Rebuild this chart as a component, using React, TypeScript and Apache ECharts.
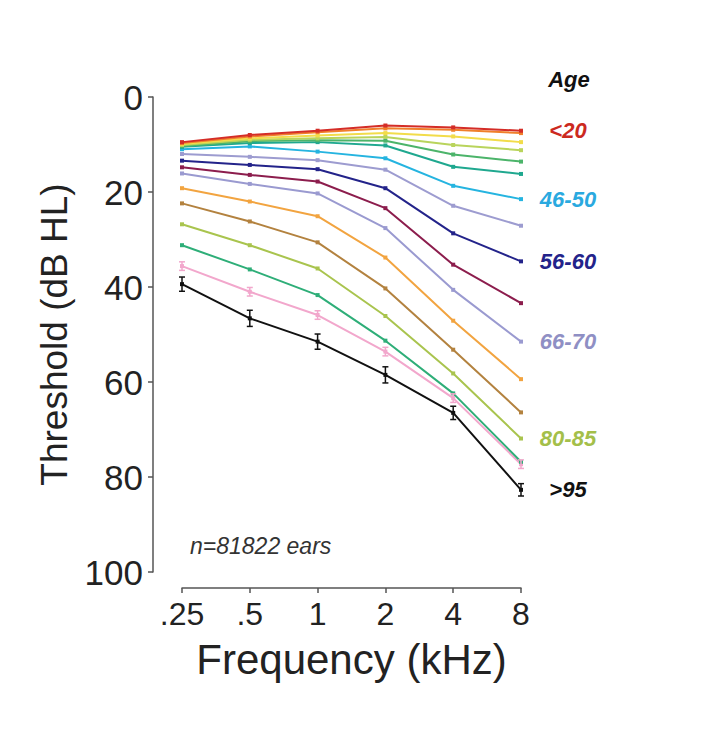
import React, { useEffect, useRef } from "react";
import * as echarts from "echarts";

const frequencies = [".25", ".5", "1", "2", "4", "8"];
const yTicks = [0, 20, 40, 60, 80, 100];

const ageGroups = [
  "<20", "21-25", "26-30", "31-35", "36-40", "41-45", "46-50", "51-55", "56-60",
  "61-65", "66-70", "71-75", "76-80", "80-85", "86-90", "91-95", ">95",
];
const ageColors = [
  "#d42d27", "#f07f2b", "#f2dc4a", "#b9d45c", "#4cb46a", "#1fa88f", "#25b4e0", "#9d9cd0", "#23238a",
  "#8c1d4d", "#9a9ad0", "#f2a440", "#b3823f", "#a9c44e", "#2eae78", "#f2a7cc", "#111111",
];
const labelColors: Record<string, string> = {
  "<20": "#cc2a1f",
  "46-50": "#2aa9df",
  "56-60": "#23238a",
  "66-70": "#8f8fc4",
  "80-85": "#a4bf4a",
  ">95": "#111111",
};

const thr_lt20 = [9.5, 8.0, 7.1, 6.0, 6.4, 7.1];
const thr_21_25 = [9.7, 8.3, 7.4, 6.6, 6.9, 7.6];
const thr_26_30 = [9.9, 8.7, 8.1, 7.6, 8.3, 9.5];
const thr_31_35 = [10.1, 9.0, 8.7, 8.4, 10.1, 11.2];
const thr_36_40 = [10.3, 9.3, 9.1, 9.2, 12.1, 13.6];
const thr_41_45 = [10.5, 9.7, 9.5, 10.2, 14.7, 16.2];
const thr_46_50 = [11.0, 10.4, 11.5, 12.9, 18.7, 21.5];
const thr_51_55 = [12.0, 12.6, 13.3, 15.3, 22.9, 27.1];
const thr_56_60 = [13.4, 14.3, 15.2, 19.2, 28.7, 34.6];
const thr_61_65 = [14.8, 16.4, 17.8, 23.4, 35.3, 43.4];
const thr_66_70 = [16.1, 18.3, 20.3, 27.6, 40.6, 51.5];
const thr_71_75 = [19.2, 22.0, 25.1, 33.8, 47.1, 59.4];
const thr_76_80 = [22.4, 26.2, 30.6, 40.3, 53.2, 66.4];
const thr_80_85 = [26.8, 31.2, 36.1, 46.1, 58.2, 71.9];
const thr_86_90 = [31.2, 36.3, 41.7, 51.3, 62.4, 76.8];
const thr_91_95 = [35.6, 41.0, 45.9, 53.6, 63.4, 77.3];
const thr_gt95 = [39.4, 46.6, 51.5, 58.5, 66.5, 82.7];

const thresholds = [
  thr_lt20, thr_21_25, thr_26_30, thr_31_35, thr_36_40, thr_41_45, thr_46_50, thr_51_55, thr_56_60,
  thr_61_65, thr_66_70, thr_71_75, thr_76_80, thr_80_85, thr_86_90, thr_91_95, thr_gt95,
];

const err_gt95 = [1.5, 1.7, 1.6, 1.7, 1.4, 1.3];
const err_91_95 = [0.9, 0.9, 0.9, 0.9, 0.9, 0.9];

const FONT = "'Liberation Sans', Arial, Helvetica, sans-serif";

function errorSeries(values: number[], errs: number[], color: string) {
  return {
    type: "custom",
    silent: true,
    z: 5,
    data: values.map((v, i) => [i, v, errs[i]]),
    encode: { x: 0, y: 1 },
    renderItem: (params: any, api: any) => {
      const i = api.value(0);
      const v = api.value(1);
      const e = api.value(2);
      const top = api.coord([i, v - e]);
      const bot = api.coord([i, v + e]);
      const w = 3;
      const style = { stroke: color, lineWidth: 1.5 };
      return {
        type: "group",
        children: [
          { type: "line", shape: { x1: top[0], y1: top[1], x2: bot[0], y2: bot[1] }, style },
          { type: "line", shape: { x1: top[0] - w, y1: top[1], x2: top[0] + w, y2: top[1] }, style },
          { type: "line", shape: { x1: bot[0] - w, y1: bot[1], x2: bot[0] + w, y2: bot[1] }, style },
        ],
      };
    },
  };
}

export default function App() {
  const ref = useRef<HTMLDivElement>(null);

  useEffect(() => {
    document.body.style.margin = "0";
    if (!ref.current) return;
    const chart = echarts.init(ref.current, undefined, { renderer: "svg" });

    const lineSeries: any[] = ageGroups.map((age, k) => {
      const labelColor = labelColors[age];
      return {
        type: "line",
        name: age,
        data: thresholds[k],
        z: 3 + (ageGroups.length - k) * 0.01,
        symbol: "rect",
        symbolSize: 4,
        lineStyle: { color: ageColors[k], width: 2 },
        itemStyle: { color: ageColors[k] },
        endLabel: labelColor
          ? {
              show: true,
              formatter: age,
              color: labelColor,
              fontFamily: FONT,
              fontWeight: "bold",
              fontStyle: "italic",
              fontSize: 22,
              distance: 47,
              align: "center",
            }
          : { show: false },
      };
    });

    const option: any = {
      animation: false,
      backgroundColor: "#ffffff",
      grid: { left: 182, right: 185, top: 97, bottom: 172, containLabel: false },
      xAxis: {
        type: "category",
        data: frequencies,
        boundaryGap: false,
        position: "bottom",
        offset: 16,
        name: "Frequency (kHz)",
        nameLocation: "middle",
        nameGap: 50,
        nameTextStyle: { fontFamily: FONT, fontSize: 42, color: "#222" },
        axisLine: { onZero: false, lineStyle: { color: "#555", width: 1.5 } },
        axisTick: { show: true, length: 5, alignWithLabel: true, lineStyle: { color: "#555", width: 1.5 } },
        axisLabel: { fontFamily: FONT, fontSize: 32, color: "#222", margin: 10 },
        splitLine: { show: false },
      },
      yAxis: {
        type: "value",
        inverse: true,
        min: 0,
        max: 100,
        interval: 20,
        position: "left",
        offset: 29,
        name: "Threshold (dB HL)",
        nameLocation: "middle",
        nameGap: 80,
        nameTextStyle: { fontFamily: FONT, fontSize: 37, color: "#222" },
        axisLine: { show: true, onZero: false, lineStyle: { color: "#555", width: 1.5 } },
        axisTick: { show: true, length: 5, lineStyle: { color: "#555", width: 1.5 } },
        axisLabel: {
          fontFamily: FONT,
          fontSize: 35,
          color: "#222",
          margin: 10,
          formatter: (v: number) => (yTicks.includes(v) ? String(v) : ""),
        },
        splitLine: { show: false },
      },
      graphic: [
        {
          type: "text",
          x: 569,
          y: 79,
          style: {
            text: "Age",
            fontFamily: FONT,
            fontWeight: "bold",
            fontStyle: "italic",
            fontSize: 22,
            fill: "#111",
            textAlign: "center",
            textVerticalAlign: "middle",
          },
        },
        {
          type: "text",
          x: 190,
          y: 546,
          style: {
            text: "n=81822 ears",
            fontFamily: FONT,
            fontStyle: "italic",
            fontSize: 23,
            fill: "#333",
            textAlign: "left",
            textVerticalAlign: "middle",
          },
        },
      ],
      series: [
        ...lineSeries,
        errorSeries(thr_91_95, err_91_95, "#f2a7cc"),
        errorSeries(thr_gt95, err_gt95, "#111111"),
      ],
    };

    chart.setOption(option);
    return () => chart.dispose();
  }, []);

  return <div ref={ref} style={{ width: 706, height: 744 }} />;
}
